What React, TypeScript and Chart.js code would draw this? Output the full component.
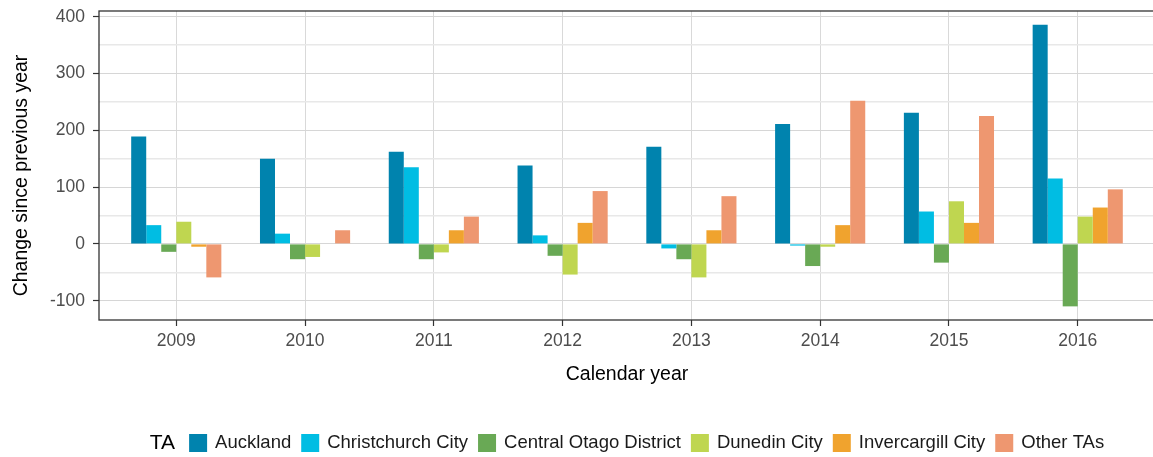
import React, { useEffect, useRef } from "react";
import { Chart, registerables } from "chart.js";

Chart.register(...registerables);

const years = ["2009", "2010", "2011", "2012", "2013", "2014", "2015", "2016"];
const auckland = [189, 150, 162, 138, 171, 211, 231, 386];
const christchurch = [33, 18, 135, 15, -8, -3, 57, 115];
const centralOtago = [-14, -27, -27, -21, -27, -39, -33, -110];
const dunedin = [39, -23, -15, -54, -59, -5, 75, 48];
const invercargill = [-5, 0, 24, 37, 24, 33, 37, 64];
const otherTAs = [-59, 24, 48, 93, 84, 252, 225, 96];

const seriesNames = ["Auckland", "Christchurch City", "Central Otago District", "Dunedin City", "Invercargill City", "Other TAs"];
const seriesValues = [auckland, christchurch, centralOtago, dunedin, invercargill, otherTAs];
const seriesColors = ["#0083ae", "#00bde3", "#69a955", "#bfd650", "#f0a32e", "#ee9770"];
const yTicks = [-100, -50, 0, 50, 100, 150, 200, 250, 300, 350, 400];

const yTitle = "Change since previous year";
const legendTitle = "TA";

const FONT = "'Liberation Sans', Arial, Helvetica, sans-serif";

const panelBox = {
  id: "panelBox",
  afterDatasetsDraw(chart: any) {
    const { ctx, chartArea } = chart;
    const { left, top, right, bottom } = chartArea;
    ctx.save();
    ctx.strokeStyle = "#333333";
    ctx.lineWidth = 1.3;
    ctx.strokeRect(left, top, right - left, bottom - top);
    ctx.restore();
  },
};

const yAxisTitle = {
  id: "yAxisTitle",
  afterDraw(chart: any) {
    const { ctx, chartArea } = chart;
    ctx.save();
    ctx.font = `19.5px ${FONT}`;
    ctx.fillStyle = "#000";
    ctx.textAlign = "center";
    ctx.textBaseline = "middle";
    ctx.translate(22, (chartArea.top + chartArea.bottom) / 2 + 10);
    ctx.rotate(-Math.PI / 2);
    ctx.fillText(yTitle, 0, 0);
    ctx.restore();
  },
};

const ggLegend = {
  id: "ggLegend",
  afterDraw(chart: any) {
    const { ctx, chartArea } = chart;
    const titleFont = `21px ${FONT}`;
    const itemFont = `18.5px ${FONT}`;
    const box = 18;
    const boxGap = 8;
    const itemGap = 10;
    const titleGap = 14;
    const cy = 443;
    ctx.save();
    ctx.font = titleFont;
    const titleW = ctx.measureText(legendTitle).width;
    ctx.font = itemFont;
    const ds = chart.data.datasets;
    const widths = ds.map((d: any) => ctx.measureText(d.label).width);
    let total = titleW + titleGap;
    widths.forEach((w: number, i: number) => {
      total += box + boxGap + w + (i < widths.length - 1 ? itemGap : 0);
    });
    const center = (chartArea.left + chartArea.right) / 2;
    let x = center - total / 2;
    ctx.textBaseline = "middle";
    ctx.textAlign = "left";
    ctx.fillStyle = "#000";
    ctx.font = titleFont;
    ctx.fillText(legendTitle, x, cy);
    x += titleW + titleGap;
    ctx.font = itemFont;
    ds.forEach((d: any, i: number) => {
      ctx.fillStyle = d.backgroundColor;
      ctx.fillRect(x, cy - box / 2, box, box);
      x += box + boxGap;
      ctx.fillStyle = "#1a1a1a";
      ctx.fillText(d.label, x, cy);
      x += widths[i] + itemGap;
    });
    ctx.restore();
  },
};

export default function App() {
  const canvasRef = useRef<HTMLCanvasElement | null>(null);

  useEffect(() => {
    if (!canvasRef.current) return;
    const chart = new Chart(canvasRef.current, {
      type: "bar",
      data: {
        datasets: seriesNames.map((name, s) => ({
          label: name,
          data: seriesValues[s].map((v, i) => ({ x: i, y: v })),
          backgroundColor: seriesColors[s],
          borderWidth: 0,
          categoryPercentage: 0.7,
          barPercentage: 1,
        })),
      },
      options: {
        responsive: false,
        animation: false,
        events: [],
        layout: { padding: { left: 0, right: 5, top: 11, bottom: 67 } },
        plugins: {
          legend: { display: false },
          tooltip: { enabled: false },
          title: { display: false },
        },
        scales: {
          x: {
            type: "linear",
            min: -0.6,
            max: 7.6,
            offset: false,
            afterBuildTicks: (s: any) => {
              s.ticks = years.map((_, i) => ({ value: i }));
            },
            afterFit: (s: any) => {
              s.height = 70;
              s.paddingLeft = 0;
              s.paddingRight = 0;
            },
            border: { display: false },
            grid: {
              offset: false,
              color: "#d9d9d9",
              lineWidth: 1,
              drawTicks: true,
              tickLength: 6,
              tickColor: "#333333",
              tickWidth: 1.2,
            },
            ticks: {
              callback: (v: any) => years[v] ?? "",
              color: "#4d4d4d",
              font: { family: FONT, size: 17.5 },
              padding: 5,
              maxRotation: 0,
              autoSkip: false,
            },
            title: {
              display: true,
              text: "Calendar year",
              color: "#000",
              font: { family: FONT, size: 19.5 },
              padding: { top: 0, bottom: 3.3 },
            },
          },
          y: {
            type: "linear",
            min: -134,
            max: 410,
            afterBuildTicks: (s: any) => {
              s.ticks = yTicks.map((v) => ({ value: v }));
            },
            afterFit: (s: any) => {
              s.width = 99;
              s.paddingTop = 0;
              s.paddingBottom = 0;
            },
            border: { display: false },
            grid: {
              color: (c: any) => (c.tick && c.tick.value % 100 === 0 ? "#d6d6d6" : "#e8e8e8"),
              lineWidth: (c: any) => (c.tick && c.tick.value % 100 === 0 ? 1 : 1.5),
              drawTicks: true,
              tickLength: 6,
              tickColor: (c: any) => (c.tick && c.tick.value % 100 === 0 ? "#333333" : "rgba(0,0,0,0)"),
              tickWidth: 1.2,
            },
            ticks: {
              callback: (v: any) => (Number(v) % 100 === 0 ? String(v) : ""),
              color: "#4d4d4d",
              font: { family: FONT, size: 17.5 },
              padding: 8,
              autoSkip: false,
            },
            title: { display: false },
          },
        },
      } as any,
      plugins: [panelBox, yAxisTitle, ggLegend],
    });
    return () => chart.destroy();
  }, []);

  return (
    <div
      style={{
        position: "fixed",
        left: 0,
        top: 0,
        width: 1153,
        height: 457,
        overflow: "hidden",
        background: "#ffffff",
      }}
    >
      <canvas ref={canvasRef} width={1160} height={457} style={{ display: "block" }} />
    </div>
  );
}
